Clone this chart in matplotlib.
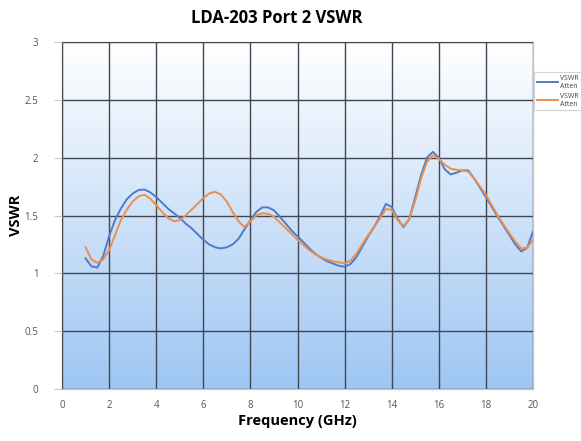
import numpy as np
import matplotlib
matplotlib.use('Agg')
import matplotlib.pyplot as plt
from matplotlib.colors import LinearSegmentedColormap

freq = [1.0, 1.25, 1.5, 1.75, 2.0, 2.25, 2.5, 2.75, 3.0, 3.25, 3.5, 3.75,
        4.0, 4.25, 4.5, 4.75, 5.0, 5.25, 5.5, 5.75, 6.0, 6.25, 6.5, 6.75,
        7.0, 7.25, 7.5, 7.75, 8.0, 8.25, 8.5, 8.75, 9.0, 9.25, 9.5, 9.75,
        10.0, 10.25, 10.5, 10.75, 11.0, 11.25, 11.5, 11.75, 12.0, 12.25, 12.5, 12.75,
        13.0, 13.25, 13.5, 13.75, 14.0, 14.25, 14.5, 14.75, 15.0, 15.25, 15.5, 15.75,
        16.0, 16.25, 16.5, 16.75, 17.0, 17.25, 17.5, 17.75, 18.0, 18.25, 18.5, 18.75,
        19.0, 19.25, 19.5, 19.75, 20.0]

vswr_a = [1.13, 1.06, 1.05, 1.15, 1.32, 1.46, 1.56, 1.64, 1.69, 1.72, 1.725, 1.70,
          1.66, 1.61, 1.56, 1.52, 1.48, 1.43, 1.39, 1.34, 1.29, 1.25, 1.225, 1.215,
          1.225, 1.25, 1.30, 1.38, 1.46, 1.53, 1.57, 1.57, 1.545, 1.49, 1.43, 1.37,
          1.32, 1.27, 1.216, 1.17, 1.135, 1.105, 1.085, 1.065, 1.057, 1.08, 1.14, 1.23,
          1.32, 1.40, 1.49, 1.60, 1.575, 1.47, 1.40, 1.47, 1.66, 1.85, 2.00, 2.05,
          2.00, 1.90, 1.855, 1.87, 1.89, 1.89, 1.82, 1.74, 1.66, 1.575, 1.49, 1.41,
          1.33, 1.25, 1.19, 1.22, 1.36]

vswr_b = [1.225, 1.12, 1.09, 1.12, 1.20, 1.33, 1.46, 1.55, 1.62, 1.665, 1.68, 1.645,
          1.59, 1.53, 1.48, 1.45, 1.46, 1.50, 1.55, 1.60, 1.65, 1.69, 1.705, 1.68,
          1.62, 1.53, 1.45, 1.40, 1.45, 1.50, 1.52, 1.515, 1.49, 1.44, 1.39, 1.34,
          1.29, 1.245, 1.20, 1.165, 1.14, 1.12, 1.105, 1.095, 1.086, 1.11, 1.17, 1.25,
          1.33, 1.40, 1.475, 1.555, 1.55, 1.46, 1.41, 1.47, 1.63, 1.82, 1.965, 2.02,
          1.99, 1.94, 1.905, 1.895, 1.89, 1.88, 1.82, 1.75, 1.68, 1.59, 1.50, 1.42,
          1.345, 1.275, 1.215, 1.22, 1.29]

labels = ['VSWR\nAtten', 'VSWR\nAtten']

plt.rcParams['font.family'] = ['Open Sans', 'DejaVu Sans']

fig = plt.figure(figsize=(5.81, 4.41), dpi=100)
ax = fig.add_axes([62 / 581, 1 - 389 / 441, 471 / 581, 347 / 441])

# gradient background (white at top to light blue at bottom)
cmap = LinearSegmentedColormap.from_list('bg', ['#9ec6f3', '#ffffff'])
grad = np.linspace(0, 1, 256).reshape(-1, 1)
ax.imshow(grad, extent=[0, 20, 0, 3], origin='lower', aspect='auto',
          cmap=cmap, zorder=0)

ax.plot(freq, vswr_a, color='#4f7cc4', lw=1.4, label=labels[0], zorder=3)
ax.plot(freq, vswr_b, color='#ee8e4a', lw=1.4, label=labels[1], zorder=3)

ax.set_xlim(0, 20)
ax.set_ylim(0, 3)
ax.set_xticks(range(0, 21, 2))
ax.set_yticks([0, 0.5, 1, 1.5, 2, 2.5, 3])
ax.set_yticklabels(['0', '0.5', '1', '1.5', '2', '2.5', '3'])
ax.grid(True, color='#42464e', lw=1.0, zorder=1)
ax.set_axisbelow(False)
for s in ax.spines.values():
    s.set_color('#c8c8c8')
    s.set_linewidth(1.0)
ax.tick_params(axis='both', labelsize=7, colors='#c8c8c8', labelcolor='#555555')
ax.tick_params(axis='x', length=0, pad=8)
ax.tick_params(axis='y', length=6, pad=11)

fig.text(277 / 581, 1 - 18 / 441, 'LDA-203 Port 2 VSWR', fontsize=12,
         fontweight='bold', ha='center', va='center')
ax.set_xlabel('Frequency (GHz)', fontsize=10.5, fontweight='bold', labelpad=2)
ax.set_ylabel('VSWR', fontsize=10.5, fontweight='bold')
ax.yaxis.set_label_coords(-0.082, 0.5)

leg = fig.legend(loc='upper left', bbox_to_anchor=(534 / 581, 1 - 72 / 441),
                 fontsize=5, frameon=True, fancybox=False, handlelength=3.0,
                 borderpad=0.4, labelspacing=0.4, handletextpad=0.3,
                 borderaxespad=0)
leg.get_frame().set_edgecolor('#c8c8c8')
leg.get_frame().set_linewidth(0.8)
for t in leg.get_texts():
    t.set_color('#444444')

fig.savefig('out.png', dpi=100)
